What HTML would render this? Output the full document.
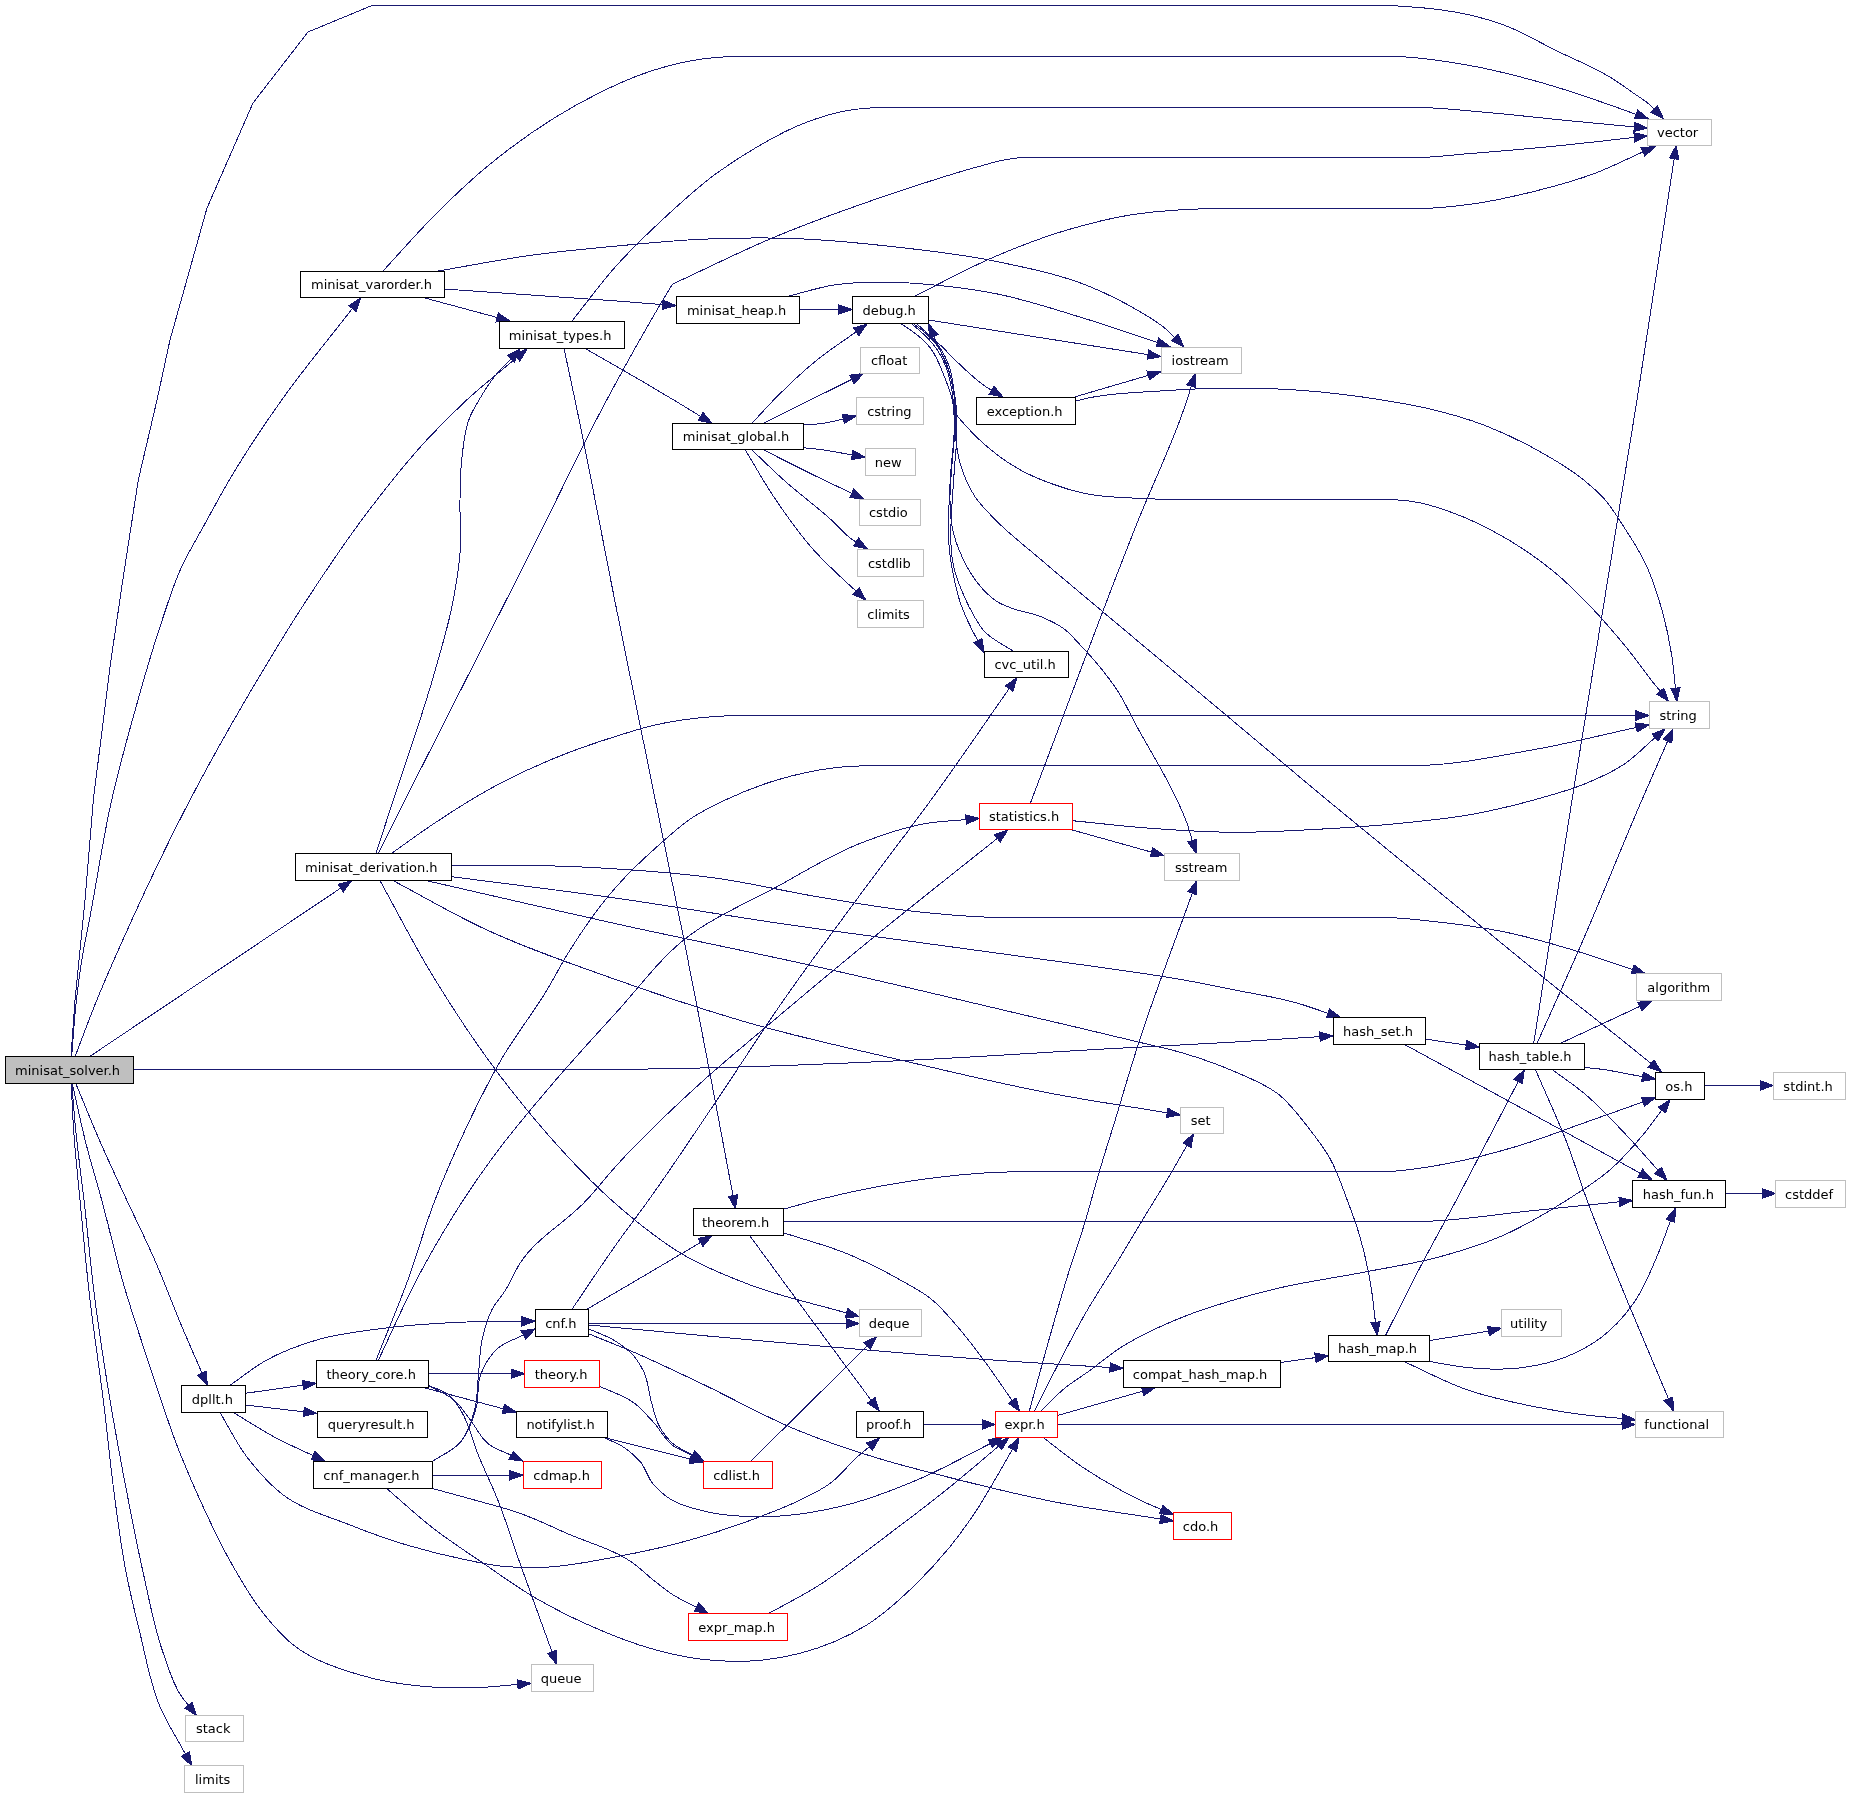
<!DOCTYPE html>
<html lang="en"><head><meta charset="utf-8"><title>minisat_solver.h include dependency graph</title>
<style>html,body{margin:0;padding:0;background:#fff}svg{display:block}text{font-family:"DejaVu Sans","Liberation Sans",sans-serif;font-size:13.0px;fill:#000;text-anchor:middle}.e{shape-rendering:crispEdges}.e path{fill:none;stroke:#191970;stroke-width:1}.e polygon{fill:#191970;stroke:#191970;stroke-width:1}.t{filter:grayscale(1)}.k{fill:#fff;stroke:#000}.r{fill:#fff;stroke:#f00}.g{fill:#fff;stroke:#bfbfbf}.root{fill:#bfbfbf;stroke:#000}</style></head><body>
<svg width="1850" height="1797" viewBox="0 0 1850 1797">
<rect width="1850" height="1797" fill="#fff"/>
<g class="e">
<path d="M71,1056.5L75,1000L85,900L93.3,800L100,746.7L110,666.7L123.3,576.7L138.3,480L157,400L170,340L207,208L253,103L308,32L372,5.5L1391,5.5C1405.3,6.7 1419.7,7.2 1434,9C1446.1,10.5 1458.1,12.3 1470,15C1481.4,17.6 1492.7,21 1503.7,25C1522.3,31.8 1539.3,42.3 1557,51C1574.8,59.7 1593.4,66.9 1610.3,77.3C1618.3,82.2 1625.9,87.8 1633.6,93.2C1639.1,97.1 1645.1,100.4 1650,105C1651.5,106.4 1652.9,107.9 1654.3,109.4"/>
<path d="M71.7,1056.5C73.1,1039.6 74,1022.6 75.8,1005.7C77.8,987.1 80.3,968.5 83.5,950C85.4,938.9 87.9,927.8 90,916.7C97.5,877.9 102.9,838.6 111.7,800C118.1,772 125.6,744.3 133.3,716.7C141.7,686.5 150.1,656.4 160,626.7C166.8,606.5 172.8,586 181.7,566.7C188.1,552.9 196,540 203.3,526.7C213.1,508.8 222.8,490.8 233.3,473.3C248.4,448.2 264.8,423.9 281.7,400C304,368.5 328.8,339 352.4,308.5"/>
<path d="M75.1,1056.5C82.5,1037.2 89.6,1017.8 97.4,998.7C104.1,982.3 111.2,966.2 118.3,950C123.2,938.9 128.2,927.8 133.3,916.7C151.3,877.4 170,838.3 190,800C210,761.6 231.3,724 253.3,686.7C270.6,657.5 288.1,628.4 306.7,600C325.9,570.6 345.5,541.3 366.7,513.3C386.2,487.5 406.2,461.9 428.3,438.3C440.6,425.1 453.4,412.3 466.7,400C482.8,385.1 500.1,371.7 516.8,357.6"/>
<path d="M89.7,1056.5L340.7,888.1"/>
<path d="M133.7,1069.5C289.1,1069.5 444.6,1069.5 600,1069.5C622.3,1069.5 644.7,1069.1 667,1068.7C744.8,1067.4 822.6,1064.3 900.3,1060.7C972.6,1057.4 1044.8,1052.2 1117,1048.3C1156,1046.2 1195,1044.4 1234,1042.1C1262.7,1040.4 1291.3,1038.5 1319.9,1036.6"/>
<path d="M75.8,1083.6C83.9,1103 91.8,1122.6 100.2,1141.9C108.7,1161.4 117.8,1180.7 126.7,1200C135.5,1218.9 144.9,1237.6 153.3,1256.7C164,1280.8 173,1305.7 183.3,1330C189.4,1344.4 195.8,1358.7 202,1373.1"/>
<path d="M72.3,1083.6C77,1104 81.1,1124.5 86.3,1144.8C91,1163.3 96.7,1181.6 101.7,1200C109.2,1227.7 115.3,1255.7 123.3,1283.3C131.4,1311.3 140.8,1339 150,1366.7C159.7,1395.7 168.7,1424.9 180,1453.3C186.3,1469 193,1484.6 200,1500C210.3,1522.6 220.8,1545.2 233.3,1566.7C242.6,1582.7 251.7,1598.9 263.3,1613.3C272.4,1624.6 281.9,1636 293.3,1645C312.4,1660.1 336.7,1668 360,1675C381.6,1681.5 404.2,1684.8 426.7,1686.7C445.5,1688.3 464.5,1688.2 483.3,1687.3C494.8,1686.7 506.3,1685.4 517.7,1684.4"/>
<path d="M71.7,1083.6C73.1,1099.4 74.2,1115.2 75.8,1130.9C78.1,1154 81.3,1177 84,1200C87.8,1233.3 90.7,1266.7 95,1300C99.3,1333.4 104.5,1366.8 110,1400C115.6,1433.4 121.8,1466.7 128.3,1500C133.1,1524.5 137.8,1549 143.3,1573.3C149.4,1600.1 154,1627.4 163.3,1653.3C168.6,1668.1 172.6,1683.9 181.7,1696.7C183.8,1699.7 186.2,1702.4 188.5,1705.3"/>
<path d="M71.2,1083.6C72,1099.4 72.6,1115.1 73.7,1130.9C75.3,1154 77.8,1177 80,1200C83.2,1233.4 86.1,1266.7 90,1300C93.9,1333.4 99.1,1366.6 103.3,1400C107.5,1433.3 110.5,1466.7 115,1500C118,1522.3 120.9,1544.6 125,1566.7C129.2,1589.1 134.5,1611.2 140,1633.3C146.1,1657.9 150.1,1683.3 160,1706.7C167,1723.2 176.9,1738.2 185.4,1754"/>
<path d="M383,271C399.7,253 415.7,234.4 433,217C449.1,200.8 465.5,184.7 483,170C505.7,150.9 529.7,133.1 555,117.5C569.6,108.5 584.6,100.1 600,92.5C613.9,85.7 627.9,79.2 642.5,74C658,68.5 673.8,63.9 690,61C705.8,58.1 721.9,56.5 738,56.5C956,56.5 1174,56.5 1392,56.5C1417.2,56.5 1442.2,60.7 1467,65C1492.9,69.5 1518.4,76.1 1543.7,83.3C1562.8,88.8 1581.6,95.1 1600.3,101.6C1612.3,105.7 1624.2,110.1 1636.1,114.4"/>
<path d="M438,271C469.7,265.7 501.2,259.3 533,255C560.9,251.2 589,248.6 617,246C644.6,243.4 672.3,240.6 700,239.3C732.3,237.8 764.7,237.4 797,238.7C826.1,239.8 855.1,242.6 884,245.7C920.8,249.6 957.7,253.5 994,261C1026.4,267.7 1059.4,274.1 1090,286.7C1106.2,293.4 1122,301.1 1137,310C1147.3,316.1 1158.1,321.9 1167,330C1169.6,332.4 1172,334.9 1174.5,337.4"/>
<path d="M444,289C501.7,293 559.4,296.5 617,301C632.2,302.2 647.5,303.4 662.7,304.6"/>
<path d="M423,297.5L497.2,317.5"/>
<path d="M572,321C587,302.3 600.9,282.8 617,265C630.6,250 645.2,235.8 660,222C678.3,204.9 696.7,187.7 717,173C729.9,163.7 743.2,155 757,147C771.6,138.5 786.3,130.2 802,124C815.9,118.5 830.3,113.7 845,111C857.8,108.6 870.9,107.5 884,107.5C1061.7,107.5 1239.3,107.5 1417,107.5C1439.3,107.5 1461.6,110.3 1483.8,112.2C1511.6,114.5 1539.3,117.8 1567,120.5C1589.4,122.7 1611.9,124.8 1634.4,126.9"/>
<path d="M585,348.5C595.7,354.6 606.4,360.6 617,366.7C636,377.6 654.9,388.7 673.7,400C682.7,405.4 691.7,410.9 700.6,416.4"/>
<path d="M564,348.5C567.7,365.7 571.4,382.8 575,400C589.7,469.8 602.6,540 616.7,610C629.4,673.4 642.4,736.7 655.3,800C664.8,846.7 674.7,893.3 684,940C694.6,993.3 704.8,1046.6 715,1100C721.1,1131.9 727,1163.8 733,1195.6"/>
<path d="M800,309.5L838.7,309.5"/>
<path d="M789,296C804,292.3 818.7,287.4 834,285C850.5,282.4 867.3,282 884,282C900.7,282 917.4,283.4 934,285C954.1,286.9 974.2,289.5 994,293.3C1024.6,299.2 1054.2,309.2 1084,318.3C1108.6,325.8 1132.9,334.5 1157.4,342.5"/>
<path d="M914,296.5C940.7,283.3 966.6,268.7 994,257C1017.9,246.8 1042.1,237.4 1067,230C1087.7,223.9 1108.7,218.5 1130,215C1147.9,212.1 1165.9,210.7 1184,209.6C1200.6,208.6 1217.3,208.5 1234,208.5C1295,208.5 1356,208.5 1417,208.5C1436,208.5 1455,206.5 1473.8,203.8C1494,200.9 1513.9,196.4 1533.7,191.5C1553.9,186.5 1574.1,181.1 1593.6,173.8C1610.5,167.5 1626.6,159.2 1643,151.9"/>
<path d="M928.7,320L1147.9,354.6"/>
<path d="M915.9,323.3C923.4,329.9 931.1,336.3 938.4,343.2C944.7,349.1 950.5,355.5 956.7,361.5C962.2,366.8 967.7,372.1 973.5,377C977.6,380.5 981.7,384.1 986.2,387C988,388.1 989.8,389.1 991.6,390.2"/>
<path d="M900.4,323.3C906.5,327.6 913.1,331.3 918.7,336.2C922.7,339.7 926.7,343.3 930,347.5C936.6,355.7 940,365.9 944,375.6C946.6,382 948.9,388.7 951,395.3C953.1,401.8 953.2,409.1 956.7,415C958.9,418.7 962.2,421.6 965,424.8C969.1,429.4 973.4,434 977.9,438.3C990.8,450.7 1005.3,461.7 1021,470.3C1031.2,475.9 1042.1,480.3 1053,484.2C1062.1,487.5 1071.4,490.4 1080.8,492.6C1103.4,498 1127.1,497.6 1150.3,498.8C1178.2,500.3 1206.1,499.5 1234,499.5C1284,499.5 1333.9,499.5 1383.9,499.5C1395.6,499.5 1407.3,500.4 1418.8,502.6C1430.8,504.9 1442.4,509 1453.8,513.2C1467.5,518.3 1480.8,524.6 1493.7,531.5C1514.9,542.8 1535.1,556.2 1553.7,571.5C1567.9,583.2 1580.9,596.4 1593.6,609.8C1605.2,622.1 1616.2,635 1626.9,648.1C1636.1,659.5 1644.4,671.7 1653.6,683.1C1655.8,685.8 1658,688.4 1660.2,691.1"/>
<path d="M913,323.3C916.8,326.2 920.7,328.8 924.3,332C929.5,336.6 934.5,341.7 938.4,347.5C941.9,352.7 944.5,358.5 946.8,364.3C949.4,371.1 951,378.3 952.4,385.4C953.8,392.4 954.6,399.4 955.3,406.5C956.5,418.9 954.6,431.5 956.3,443.9C957.1,450 958.2,456.1 959.8,462C963.1,474.2 968.1,486.2 975.1,496.8C981.2,506.1 989.6,513.8 997.4,521.8C1010.3,534.9 1025.1,546 1039,558C1059.2,575.3 1079.7,592.3 1100,609.4C1144.5,646.8 1189.1,684.1 1233.7,721.5C1264.9,747.7 1295.9,774 1327.2,800C1373.6,838.6 1420.4,876.7 1467.1,914.9C1500.4,942.1 1533.4,969.7 1567,996.5C1583.6,1009.8 1600.4,1022.7 1617,1036C1628.4,1045.2 1639.8,1054.4 1651.2,1063.6"/>
<path d="M916,323.3C919.7,326.5 923.5,329.6 927,333C931.9,337.8 936.6,342.8 940.4,348.5C943.8,353.7 946.7,359.4 948.8,365.3C951.3,372.1 952.3,379.3 953.4,386.4C955.6,400.8 955.2,415.5 954.8,430C954.4,443.4 952.4,456.6 951.5,470C950.9,480 949.8,490 950,500C950.2,509.2 950.4,518.4 952.2,527.4C954.3,538 958,548.2 962.6,558C966.5,566.3 971,574.3 976.5,581.6C979.5,585.5 982.7,589.3 986.2,592.7C989.7,596 993.3,599.3 997.4,601.8C1001.7,604.5 1006.6,606.1 1011.3,608C1021.2,611.9 1032.1,612.9 1041.9,617.1C1049.6,620.4 1057.4,623.9 1064.1,628.9C1070.4,633.6 1075.4,639.9 1080.8,645.6C1087.4,652.6 1093.9,659.7 1100,667.1C1106,674.5 1111.8,682.1 1117,690C1124.7,701.6 1130.3,714.5 1137,726.7C1150.3,751.1 1165.5,774.7 1177,800C1180.5,807.7 1184.2,815.3 1187,823.3C1189,829 1190.5,834.8 1192.2,840.6"/>
<path d="M911,323.3C914.8,326.5 918.7,329.6 922.3,333C927.4,337.8 932.4,342.8 936.4,348.5C940.2,354 943.3,360.1 945.8,366.3C948.5,373.1 950,380.3 951.4,387.4C954.1,401.4 954.3,415.8 954.2,430C954.1,443.9 951.7,457.8 950.8,471.7C949.8,486.5 949,501.4 948.7,516.2C948.6,524.6 948.2,532.9 948.7,541.3C949.3,550.6 950.6,559.9 952.2,569.1C954.4,581.3 957,593.5 961.2,605.2C964.3,613.8 968.2,622.1 972.3,630.3C974.1,633.8 976,637.3 977.9,640.8"/>
<path d="M1012.7,650.9C1002.9,644 991,639.5 983.4,630.3C980.2,626.5 977.7,622.1 975.1,617.8C970.3,609.8 966.2,601.3 962.6,592.7C959.4,585 956.2,577.2 954.2,569.1C952,560 951.2,550.6 950.8,541.3C950.4,532 951.1,522.7 951.5,513.4C952.1,499.5 953.3,485.6 954.2,471.7C955.1,457.8 957,443.9 957,430C957,420 956.9,409.9 955.5,400C954.2,390.5 952,381.1 949,372C946.5,364.5 943.1,357.3 940,350C938,345.4 935.9,340.8 933.9,336.2"/>
<path d="M1075.5,396.7L1148.2,375.4"/>
<path d="M1076,401C1079.7,400.1 1083.3,399.1 1087,398.3C1110.9,392.9 1135.6,392.7 1160,391C1184.6,389.3 1209.3,388 1234,388C1256.2,388 1278.4,388.7 1300.6,390.3C1327.9,392.3 1355.2,395.6 1382.2,400C1397.2,402.4 1412.3,404.9 1427.1,408.3C1446.3,412.8 1465.4,418 1483.8,425C1502.1,432 1519.9,440.5 1537,450C1553.2,459 1569.4,468.3 1583.7,480C1590.7,485.7 1597.6,491.5 1603.6,498.2C1611.4,506.8 1617.3,516.8 1623.6,526.5C1631.4,538.4 1639.2,550.4 1645.3,563.2C1652.4,578.1 1657.4,593.9 1661.9,609.8C1666.2,625.1 1669.5,640.7 1671.9,656.4C1673.5,666.9 1674.3,677.6 1675.4,688.2"/>
<path d="M752,423.3C759.2,415.5 766.3,407.6 773.7,400C787.5,386 801.7,372.3 817,360C829.5,349.9 843.1,341.2 856.2,331.8"/>
<path d="M763.7,423.3C779.2,415.5 794.8,407.7 810.3,400C824.1,393.1 838,386.3 851.8,379.4"/>
<path d="M803.7,425C810.4,424.4 817.1,424.3 823.7,423.3C830.3,422.3 836.8,420.4 843.3,418.9"/>
<path d="M803.7,447.7C810.4,448.5 817.1,449.1 823.7,450C833.3,451.3 842.7,453.3 852.2,455"/>
<path d="M763.7,450C781.5,458.9 799.1,468 817,476.7C828.5,482.3 840.1,487.7 851.7,493.3"/>
<path d="M752,450C762.6,460 772.9,470.3 783.7,480C798.8,493.5 815.2,505.5 830.3,519C838.1,526 844.5,534.7 853.3,540.3C854.2,540.9 855.2,541.5 856.2,542.1"/>
<path d="M745.3,450C754.8,465.6 763.6,481.6 773.7,496.7C786.1,515.2 798.9,533.5 813.7,550C823.5,560.9 834.3,571 845,581C848.6,584.4 852.3,587.7 856,591"/>
<path d="M376,853.3C381.8,835.5 387.5,817.8 393.3,800C406.6,758.9 421.5,718.3 433.3,676.7C440.5,651.3 448.5,626 453.3,600C456.2,584.5 458.8,569 460,553.3C461.3,535.6 459.6,517.8 460,500C460.3,486.7 460.2,473.3 461.7,460C463.3,445.4 464.2,430.2 470,416.7C472.5,410.9 475.8,405.5 479,400C483.9,391.7 489,383.5 495,376C499.9,369.9 505.6,364.5 511,358.8"/>
<path d="M378.3,853.3C387.2,835.5 396.1,817.8 405,800C447.5,715.4 490.8,631.3 533.3,546.7C557.9,497.8 580.8,448.2 606.7,400C610.1,393.7 613.5,387.3 617,381C627.8,361.2 638.7,341.5 650,322C657.3,309.3 664.9,296.8 672.4,284.2C706.3,268.6 739.6,251.7 774,237.3C813.3,220.9 853.6,206.6 894,193C921.5,183.8 949,174.6 977,167C986,164.6 994.9,161.7 1004,160C1010.6,158.8 1017.3,157.5 1024,157.5C1155,157.5 1286,157.5 1417,157.5C1433.7,157.5 1450.3,155.1 1467,153.8C1500.4,151.2 1533.7,148.3 1567,144.9C1589.5,142.6 1611.9,139.9 1634.4,137.4"/>
<path d="M391.7,853.3C405.6,843.5 419.2,833.4 433.3,824C452.6,811.1 472.1,798.6 492.5,787.5C516.4,774.5 541.3,763.2 566.7,753.3C583.2,746.9 600.1,741.3 617,736C629.6,732.1 642.1,727.9 655,725C668.2,722 681.6,719.9 695,718.3C709.9,716.5 725,715.5 740,715.5C1038.6,715.5 1337.3,715.5 1635.9,715.5"/>
<path d="M451.7,865.7C478.9,865.7 506.1,865.7 533.3,865.7C561.2,865.7 589.1,867.2 617,869C650.4,871.1 683.8,873.7 717,878.3C750.6,882.9 783.6,891.1 817,896.7C850.2,902.2 883.5,908.2 917,911.7C946.2,914.8 975.6,917.5 1005,917.5C1131.3,917.5 1257.6,917.5 1383.9,917.5C1400.6,917.5 1417.2,919.7 1433.8,921.5C1459.5,924.3 1485.2,927.7 1510.4,933.2C1529.5,937.3 1548.3,942.7 1567,948.2C1589.1,954.6 1610.8,962.3 1632.6,969.4"/>
<path d="M451.7,876.7C506.8,883.9 562,890.5 617,898.3C672.7,906.2 728.1,915.9 783.7,924C839.2,932.1 894.8,939.1 950.3,946.7C994.8,952.8 1039.3,958.6 1083.7,965C1117.1,969.8 1150.5,974 1183.7,980C1200.5,983 1217.3,986.4 1234,989.8C1255.1,994.1 1276.6,997.1 1297.3,1003.1C1307.6,1006.1 1317.7,1009.9 1328,1013.2"/>
<path d="M426.7,880.7C490.1,895.1 553.5,910 617,924C683.6,938.7 750.5,951.8 817,966.7C883.8,981.6 950.4,997.6 1017,1013.3C1057,1022.7 1097.1,1031.9 1137,1041.7C1152.6,1045.5 1168.3,1048.7 1183.7,1053.3C1200.8,1058.4 1217.7,1064.2 1234,1071.4C1249.5,1078.2 1265.8,1084.1 1279,1094.7C1290,1103.5 1298.5,1115.2 1307.3,1126.3C1315.7,1136.9 1324.1,1147.7 1330.6,1159.6C1337.6,1172.3 1342.1,1186.4 1347.2,1200C1351.4,1211 1355.5,1222 1358.9,1233.3C1363.8,1249.6 1367.6,1266.4 1370.5,1283.2C1372.7,1296.2 1373.8,1309.3 1375.5,1322.3"/>
<path d="M393.3,880.7C423.3,896.6 452.6,913.9 483.3,928.3C526.6,948.6 572,964 617,980C661,995.6 705.4,1010.4 750.3,1023.3C799.8,1037.5 850.2,1048.3 900.3,1060C950.2,1071.6 1000,1083.7 1050.3,1093.3C1089.1,1100.7 1128.2,1106.3 1167.2,1112.8"/>
<path d="M380,880.7C397.8,912.7 414.2,945.5 433.3,976.7C452.1,1007.5 471.9,1037.7 493.3,1066.7C510.2,1089.6 527.9,1111.9 546.7,1133.3C568.8,1158.4 591.7,1183.1 617,1205C638,1223.2 659.7,1241 683.7,1255C704.8,1267.2 727.5,1276.3 750.3,1285C781.5,1296.9 814.5,1303.7 846.5,1313"/>
<path d="M1030.3,803.3C1065.9,710 1100.1,616.1 1137,523.3C1153.4,482.1 1173.4,442.2 1187,400C1188.5,395.4 1189.9,390.8 1191.3,386.2"/>
<path d="M1072.3,820.7C1098.3,823.2 1124.2,826.4 1150.3,828.3C1178.2,830.3 1206.1,832.1 1234,832.3C1261.8,832.5 1289.5,830.8 1317.2,829.3C1345,827.8 1372.8,826.1 1400.5,823.3C1425,820.8 1449.6,818.5 1473.8,814C1494,810.3 1513.9,805.5 1533.7,800C1551.7,795 1569.8,790.3 1587,783C1599.6,777.7 1612.2,772.2 1623.6,764.6C1635.1,757 1644.6,746.6 1655.1,737.6"/>
<path d="M1072.3,830L1151.5,852.1"/>
<path d="M1425.5,1039.1L1466.2,1045.1"/>
<path d="M1403.8,1044.1C1458.2,1073.7 1512.7,1103.2 1567,1133C1591.4,1146.4 1615.8,1159.8 1640.2,1173.2"/>
<path d="M1533.7,1043.4C1546.5,962.3 1559.1,881.1 1572,800C1593.3,666.6 1616,533.4 1637,400C1649.6,319.6 1661.8,239.1 1674.2,158.6"/>
<path d="M1537,1043.4C1551.4,1011.1 1566.2,978.9 1580.3,946.5C1601.5,897.9 1620.9,848.6 1641.9,800C1650.4,780.4 1659,760.8 1667.6,741.2"/>
<path d="M1560.3,1043.4L1639.8,1006.4"/>
<path d="M1584.3,1067.4C1589.6,1068 1595,1068.4 1600.3,1069.1C1614.5,1070.9 1628.4,1074.2 1642.5,1076.7"/>
<path d="M1552,1069.5C1562.6,1077.3 1573.6,1084.6 1583.7,1093C1599.5,1106.1 1613.4,1121.4 1627.5,1136.3C1638,1147.4 1647.9,1159 1658.1,1170.4"/>
<path d="M1535.4,1069.5C1545.9,1094 1557.4,1118.1 1567,1143C1574.2,1161.8 1580,1181.1 1587,1200C1599.4,1233.6 1613.3,1266.7 1626.9,1299.9C1640.5,1333 1654.6,1365.9 1668.5,1398.8"/>
<path d="M1704.5,1085.5L1760.2,1085.5"/>
<path d="M1725.5,1193.5L1762.5,1193.5"/>
<path d="M783.3,1209.3C794.5,1206.2 805.7,1202.9 817,1200C839,1194.4 861.3,1189.5 883.7,1185.5C916.8,1179.6 950.2,1175.2 983.7,1173C1009.1,1171.4 1034.6,1171.5 1060,1171.5C1168,1171.5 1275.9,1171.5 1383.9,1171.5C1406.3,1171.5 1428.5,1167.1 1450.5,1163C1473,1158.8 1495.1,1152.8 1517,1146.3C1539.6,1139.6 1561.5,1130.8 1583.7,1123C1603.5,1116 1623.3,1108.9 1643.1,1101.9"/>
<path d="M783.3,1221.5C994.6,1221.5 1205.9,1221.5 1417.2,1221.5C1456.2,1221.5 1494.9,1214.3 1533.7,1210.5C1562.3,1207.7 1590.8,1204.7 1619.4,1201.8"/>
<path d="M783.3,1232.7C805.6,1240.1 828.6,1245.8 850.3,1255C867.5,1262.3 884.1,1270.8 900.3,1280C910.5,1285.8 921.1,1291.1 930.3,1298.3C941.7,1307.3 950.9,1318.9 960.3,1330C968.5,1339.6 976.1,1349.8 983.7,1360C993.6,1373.3 1002.7,1387.1 1012.2,1400.6"/>
<path d="M749.6,1235.5C768.6,1261.3 787.5,1287.2 806.5,1313C820.5,1332 834.5,1351 848.6,1370C856.1,1380.1 863.7,1390.2 871.2,1400.3"/>
<path d="M571.8,1309.5C586.9,1287.4 601.5,1265.1 617,1243.3C627.4,1228.7 638.3,1214.5 648.7,1200C672.2,1167.2 694.4,1133.5 717,1100C739.4,1066.8 760.8,1032.9 783.7,1000C809.6,962.8 836.8,926.5 863.7,890C886,859.9 909,830.3 931,800C957.7,763.3 983.1,725.7 1009.2,688.6"/>
<path d="M586.4,1309.5C596.6,1303.6 606.8,1297.6 617,1291.7C644.9,1275.4 672.7,1258.9 700.5,1242.5"/>
<path d="M588.7,1323.5L846,1323.5"/>
<path d="M588.7,1325C652.5,1330.8 716.2,1337 780,1342.5C859,1349.4 937.9,1356.4 1017,1361.7C1048,1363.8 1079,1365.6 1110,1367.5"/>
<path d="M588.7,1328.9C597.3,1332.8 606.6,1335.6 614.6,1340.6C621.6,1345 628.6,1349.9 634,1356.2C638,1360.9 641.2,1366.2 643.8,1371.7C648.4,1381.4 648.6,1392.6 651.6,1402.9C653.9,1410.7 655.4,1419 659.3,1426.2C662.9,1432.7 667.4,1438.9 673,1443.7C678.7,1448.6 686,1451 692.5,1454.7"/>
<path d="M588.7,1333.8C603.8,1340 619,1345.9 634,1352.3C656.4,1361.9 678.3,1372.6 700.3,1383C732.7,1398.3 763.8,1416.4 797,1430C825.3,1441.6 854.4,1451.3 883.7,1460C902.3,1465.5 921.2,1470.3 940,1475.1C978.7,1485 1017.6,1494.7 1056.8,1502.3C1091.1,1509 1125.8,1513.4 1160.4,1519"/>
<path d="M230,1385.3C242.2,1376.9 253.7,1367.2 266.7,1360C282.4,1351.4 299.5,1345.1 316.7,1340C338.3,1333.6 360.9,1331.2 383.3,1328.3C410.9,1324.7 438.8,1323.1 466.7,1322C485.1,1321.3 503.5,1321.5 521.9,1321.3"/>
<path d="M245.3,1393.3L302.8,1385.2"/>
<path d="M245.3,1405L303.8,1411.8"/>
<path d="M233.3,1412.5C247.8,1421.1 261.8,1430.5 276.7,1438.3C288.6,1444.5 300.9,1449.8 313,1455.6"/>
<path d="M220,1412.5C228.9,1427.2 236.3,1443 246.7,1456.7C257.4,1470.7 269.2,1484.4 283.3,1495C302.8,1509.7 327.3,1516 350,1525C368.6,1532.4 387.5,1539.2 406.7,1545C426.4,1550.9 446.5,1555.9 466.7,1560C477.7,1562.3 488.8,1564.7 500,1566C514.3,1567.6 528.9,1567.8 543.3,1567.3C568,1566.5 592.4,1561.2 616.7,1556.7C641.3,1552.1 665.9,1546.8 690,1540C713.7,1533.4 737,1525.5 760,1516.7C773.6,1511.5 787.3,1506.4 800.3,1500C810.6,1494.9 821.1,1490.1 830.3,1483.3C840.5,1475.8 848,1465.1 857.5,1456.7C861.4,1453.3 865.4,1450 869.4,1446.6"/>
<path d="M376,1360.3C386.2,1334.6 397.1,1309.2 406.7,1283.3C416.9,1255.8 424.4,1227.3 435,1200C444.6,1175.2 455.3,1150.8 466.7,1126.7C477.4,1104.1 488.5,1081.6 501,1060C515,1035.8 532.6,1013.9 547,990C554.3,977.9 560.6,965.3 568,953.3C582.7,929.7 598.5,906.7 617,886C629.4,872 643,859.1 657,846.7C668.8,836.2 680.4,825.2 693.7,816.7C703.7,810.3 714.5,805.1 725.3,800C742,792.1 759.3,785.3 777,780C794.4,774.8 812.3,770.7 830.3,768.3C848,765.9 865.9,765.5 883.7,765.5C1060.4,765.5 1237.1,765.5 1413.8,765.5C1454.1,765.5 1494,756.7 1533.7,749.7C1568.1,743.6 1602,734.9 1636.2,727.5"/>
<path d="M378.3,1360.3C392.2,1331.3 404.8,1301.6 420,1273.3C433.4,1248.3 447.8,1223.8 463.3,1200C472.9,1185.3 482.9,1170.9 493.3,1156.7C511.1,1132.5 530.6,1109.6 550,1086.7C571.7,1061.1 594.4,1036.5 617,1011.7C639,987.6 658.3,960.5 683.7,940C711.6,917.6 745.5,903.8 777,886.7C804.5,871.7 831.1,854.7 860.3,843.3C881.9,834.9 904.1,827.1 927,823.3C939.9,821.1 953,820.8 966.1,819.6"/>
<path d="M428.4,1373.7L511.2,1373.7"/>
<path d="M423.3,1387.5L503.4,1408.8"/>
<path d="M428.4,1385.4C437.3,1390.6 447.4,1394 455,1400.9C461.2,1406.5 465.5,1413.8 470.6,1420.4C476.6,1428.1 480.6,1437.6 488.1,1443.7C494.8,1449.1 503.5,1451.4 511.2,1455.3"/>
<path d="M428.4,1385.4C435.3,1388.6 443.4,1390.2 449.2,1395.1C454.1,1399.3 457.4,1405.1 460.9,1410.6C469.5,1424.1 472.3,1440.6 478.4,1455.4C484.6,1470.4 491.8,1484.9 497.8,1500C506.1,1520.8 512.5,1542.2 520,1563.3C530.5,1592.9 541.3,1622.3 552,1651.8"/>
<path d="M432.6,1461.2C441.4,1455.4 451.7,1451.4 458.9,1443.7C468.2,1433.7 472.9,1419.9 476.4,1406.8C479.1,1396.7 476.8,1385.5 480.3,1375.6C483.9,1365.5 489.7,1355.5 497.8,1348.4C505,1342 514.9,1339.5 523.4,1335"/>
<path d="M432.6,1461.2C442,1454.7 453.6,1450.6 460.9,1441.8C468.1,1433 471.5,1421.6 474.5,1410.6C477.6,1399.3 477.1,1387.3 478.4,1375.6C479.7,1363.3 479.5,1350.7 482.3,1338.6C484.6,1328.6 487.2,1318.6 492,1309.5C495.7,1302.5 501.4,1296.7 505.6,1290C511,1281.4 514.5,1271.8 520,1263.3C536.6,1237.5 565.9,1222.5 586.7,1200C597.2,1188.7 606.6,1176.4 617,1165C643.1,1136.2 671.5,1109.5 700.3,1083.3C723,1062.6 746.9,1043.2 770.3,1023.3C803.4,995.3 836.7,967.5 870.3,940C912.3,905.6 955,872.2 997.4,838.3"/>
<path d="M432.6,1475.2L509.8,1475.2"/>
<path d="M432.6,1488.5C446.6,1492.3 460.6,1496.1 474.5,1500C489.7,1504.3 505.1,1508 520,1513.3C536,1519 551.2,1526.5 566.7,1533.3C589,1543.1 613.5,1549.1 633.3,1563.3C640.3,1568.4 646.5,1574.6 653.3,1580C659.8,1585.2 666.3,1590.5 673.3,1595C680.7,1599.7 688.8,1603.1 696.5,1607.1"/>
<path d="M386.7,1488.5C402.2,1501.8 417.1,1515.8 433.3,1528.3C449.4,1540.8 466.5,1551.8 483.3,1563.3C499.8,1574.6 516,1586.5 533.3,1596.7C554.7,1609.3 577.1,1620.4 600,1630C616.4,1636.9 632.9,1643.4 650,1648.3C666.4,1653 683.1,1656.9 700,1659C716.6,1661.1 733.3,1661.9 750,1661C766.8,1660.1 783.7,1657.6 800,1653.3C823.4,1647.2 846.2,1637.7 866.7,1625C885.1,1613.5 901.2,1598.5 916.7,1583.3C928.5,1571.8 939.6,1559.5 950,1546.7C959.5,1534.9 968.4,1522.6 976.7,1510C984.4,1498.3 991.3,1485.9 998.4,1473.8C1003.2,1465.6 1007.8,1457.4 1012.5,1449.2"/>
<path d="M599.6,1386.3C611.1,1391.8 623.8,1395.3 634,1402.9C641.3,1408.4 647.3,1415.6 653.5,1422.3C660.4,1429.8 664.8,1439.7 673,1445.7C678.8,1449.9 685.8,1452.1 692.2,1455.3"/>
<path d="M603.9,1437.5L690.2,1459"/>
<path d="M603.9,1437.5C610.7,1440.9 618,1443.4 624.3,1447.6C630,1451.5 635.4,1456 639.9,1461.2C645.8,1468 647.6,1477.8 653.5,1484.6C657.4,1489.1 661.9,1493.2 666.7,1496.7C678.2,1505.1 692.9,1508.3 706.7,1511.7C724,1516 742.2,1516.6 760,1516.7C790.3,1516.9 820.7,1511.6 850,1504C873,1498 895.1,1489.2 917,1480C942.2,1469.4 965.9,1455.7 990.4,1443.6"/>
<path d="M750.8,1461.2L867.1,1346.1"/>
<path d="M923.3,1424.5L982.2,1424.5"/>
<path d="M768.3,1613.7C784.4,1604.7 801,1596.5 816.7,1586.7C840,1572.2 861.3,1554.7 883.3,1538.3C905.9,1521.4 928.4,1504.4 950.3,1486.7C966.6,1473.5 982.5,1459.7 998.6,1446.2"/>
<path d="M1029.2,1411.5C1034.5,1392.2 1039.7,1372.9 1045.1,1353.6C1052.1,1328.5 1059.1,1303.4 1066.8,1278.5C1072.6,1259.5 1079.4,1240.8 1085.1,1221.8C1090.1,1205.2 1094.4,1188.3 1099.3,1171.7C1104.4,1154.4 1109.9,1137.2 1115.2,1120C1122.8,1095 1130,1069.9 1138,1045C1154.4,993.8 1174.2,943.8 1192.3,893.2"/>
<path d="M1034.2,1411.5C1041.2,1397.8 1048,1384 1055.1,1370.3C1064.4,1352.4 1073.5,1334.4 1083.4,1316.9C1096,1294.7 1110.3,1273.6 1123.5,1251.8C1129.7,1241.6 1135.7,1231.2 1141.9,1221C1151.8,1204.5 1162.2,1188.3 1171.9,1171.7C1177,1162.9 1182,1154.1 1187,1145.2"/>
<path d="M1040.5,1411.5C1048.1,1404.2 1055.1,1396.3 1063.2,1389.5C1071.8,1382.3 1081.5,1376.6 1090.5,1370C1099.4,1363.4 1107.8,1356.2 1117,1350C1137.6,1336.2 1160.6,1325.9 1183.7,1316.7C1200.1,1310.1 1217.1,1304.9 1234,1299.9C1247.2,1296 1260.6,1292.5 1274,1289.2C1304.7,1281.7 1336.2,1277.7 1367.2,1271.6C1391.7,1266.8 1416.4,1263.2 1440.5,1256.6C1460.8,1251 1481,1244.9 1500.4,1236.6C1523.7,1226.6 1545.6,1213.6 1567,1200C1581.9,1190.5 1597,1181.2 1610.3,1169.6C1622.9,1158.6 1633.9,1145.9 1644.5,1133C1650.6,1125.6 1656.1,1117.7 1661.9,1110.1"/>
<path d="M1057.8,1415.4L1142.6,1391.2"/>
<path d="M1057.8,1424.5L1622.3,1424.5"/>
<path d="M1043.1,1437.5C1056.3,1447.4 1069,1458.1 1082.7,1467.3C1095.3,1475.7 1108.3,1483.5 1121.6,1490.7C1130.1,1495.3 1138.8,1499.6 1147.6,1503.6C1152.1,1505.6 1156.7,1507.5 1161.3,1509.5"/>
<path d="M1280.6,1362.5L1315.4,1357.6"/>
<path d="M1385.5,1335.5C1397.2,1312.5 1408.6,1289.4 1420.5,1266.6C1432.2,1244.3 1444.5,1222.3 1456.4,1200C1477.3,1160.7 1497.6,1121 1518.2,1081.5"/>
<path d="M1429.5,1340.5L1488.4,1331.2"/>
<path d="M1429.5,1361.5C1442,1363.5 1454.5,1366.3 1467.1,1367.5C1483.7,1369.1 1500.5,1370 1517,1368.2C1534,1366.4 1551.1,1363 1567,1356.5C1578.7,1351.7 1590.1,1345.7 1600.3,1338.2C1613.2,1328.6 1624.3,1316.3 1633.6,1303.2C1643.7,1289 1650.1,1272.6 1656.9,1256.6C1661.9,1244.9 1666,1232.7 1670.5,1220.7"/>
<path d="M1403.8,1361.5C1424.9,1370.9 1445.3,1382.3 1467.1,1389.8C1488.7,1397.3 1511.3,1402 1533.7,1406.5C1550.3,1409.8 1566.9,1412.7 1583.7,1414.8C1596.5,1416.4 1609.5,1417.3 1622.4,1418.5"/>
<polygon points="1663.6,118.9 1651,112.7 1657.6,106.1"/>
<polygon points="360.5,298 356.1,311.4 348.7,305.7"/>
<polygon points="527,349 519.9,361.2 513.8,354"/>
<polygon points="351.7,880.7 343.3,892 338.1,884.2"/>
<polygon points="1333.2,1035.8 1320.2,1041.3 1319.6,1032"/>
<polygon points="207.3,1385.3 197.7,1375 206.3,1371.2"/>
<polygon points="531,1683.3 518.1,1689.1 517.4,1679.8"/>
<polygon points="196.7,1715.7 184.8,1708.2 192.1,1702.4"/>
<polygon points="191.7,1765.7 181.3,1756.2 189.5,1751.8"/>
<polygon points="1648.6,118.9 1634.5,118.8 1637.7,110"/>
<polygon points="1184,346.7 1171.2,340.7 1177.8,334"/>
<polygon points="676,305.7 662.4,309.3 663.1,300"/>
<polygon points="510,321 495.9,322 498.4,313"/>
<polygon points="1647.6,128.2 1633.9,131.6 1634.8,122.3"/>
<polygon points="712,423.3 698.2,420.4 703.1,412.4"/>
<polygon points="735.5,1208.7 728.4,1196.5 737.6,1194.8"/>
<polygon points="852,309.5 838.7,314.2 838.7,304.8"/>
<polygon points="1170,346.7 1155.9,347 1158.8,338.1"/>
<polygon points="1655.2,146.5 1644.9,156.2 1641.1,147.6"/>
<polygon points="1161,356.7 1147.1,359.2 1148.6,350"/>
<polygon points="1003,397 989.2,394.2 994,386.2"/>
<polygon points="1668.6,701.4 1656.6,694.1 1663.8,688.2"/>
<polygon points="1661.5,1072 1648.2,1067.3 1654.1,1060"/>
<polygon points="1196,853.3 1187.7,841.9 1196.7,839.2"/>
<polygon points="984.1,652.5 973.7,642.9 982,638.6"/>
<polygon points="928.5,324 938.2,334.3 929.6,338.1"/>
<polygon points="1161,371.7 1149.5,379.9 1146.9,371"/>
<polygon points="1676.9,701.4 1670.8,688.7 1680.1,687.7"/>
<polygon points="867,324 858.9,335.6 853.5,328"/>
<polygon points="863.7,373.5 853.9,383.6 849.7,375.2"/>
<polygon points="856.3,416 844.3,423.5 842.3,414.3"/>
<polygon points="865.3,457.3 851.4,459.6 853,450.4"/>
<polygon points="863.7,499 849.7,497.5 853.7,489.1"/>
<polygon points="867.5,549 853.7,546 858.6,538.1"/>
<polygon points="865.8,600 852.8,594.5 859.1,587.6"/>
<polygon points="520,349 514.4,361.9 507.5,355.6"/>
<polygon points="1647.6,135.9 1634.9,142 1633.9,132.7"/>
<polygon points="1649.2,715.5 1635.9,720.2 1635.9,710.8"/>
<polygon points="1645.3,973.5 1631.2,973.9 1634.1,965"/>
<polygon points="1340.6,1017.4 1326.5,1017.7 1329.4,1008.8"/>
<polygon points="1377.2,1335.5 1370.9,1322.9 1380.1,1321.7"/>
<polygon points="1180.3,1115 1166.4,1117.4 1168,1108.2"/>
<polygon points="859.3,1316.7 845.2,1317.5 847.8,1308.5"/>
<polygon points="1195.3,373.5 1195.8,387.6 1186.9,384.8"/>
<polygon points="1665.2,729 1658.1,741.2 1652.1,734.1"/>
<polygon points="1164.3,855.7 1150.2,856.6 1152.7,847.6"/>
<polygon points="1479.4,1047.1 1465.6,1049.8 1466.9,1040.5"/>
<polygon points="1651.9,1179.6 1638,1177.3 1642.5,1169.1"/>
<polygon points="1676.2,145.5 1678.8,159.4 1669.6,157.9"/>
<polygon points="1672.9,729 1671.9,743.1 1663.3,739.3"/>
<polygon points="1651.9,1000.8 1641.8,1010.6 1637.9,1002.2"/>
<polygon points="1655.6,1079.1 1641.7,1081.3 1643.3,1072.1"/>
<polygon points="1667,1180.3 1654.6,1173.5 1661.6,1167.3"/>
<polygon points="1673.6,1411.1 1664.1,1400.6 1672.8,1397"/>
<polygon points="1773.5,1085.5 1760.2,1090.2 1760.2,1080.8"/>
<polygon points="1775.8,1193.5 1762.5,1198.2 1762.5,1188.8"/>
<polygon points="1655.6,1097.4 1644.6,1106.3 1641.5,1097.5"/>
<polygon points="1632.6,1200.5 1619.8,1206.5 1618.9,1197.2"/>
<polygon points="1019.8,1411.5 1008.3,1403.3 1016,1397.9"/>
<polygon points="879.2,1411 867.5,1403.1 875,1397.5"/>
<polygon points="1016.8,677.7 1013,691.3 1005.3,685.9"/>
<polygon points="712,1235.7 702.9,1246.5 698.2,1238.4"/>
<polygon points="859.3,1323.5 846,1328.2 846,1318.8"/>
<polygon points="1123.3,1368.3 1109.7,1372.1 1110.3,1362.8"/>
<polygon points="704.1,1461.2 690.2,1458.7 694.8,1450.6"/>
<polygon points="1173.5,1521.1 1159.6,1523.6 1161.1,1514.4"/>
<polygon points="535.2,1321.1 522,1325.9 521.8,1316.6"/>
<polygon points="316,1383.3 303.5,1389.8 302.2,1380.5"/>
<polygon points="317,1413.3 303.3,1416.4 304.3,1407.1"/>
<polygon points="325,1461.3 311,1459.8 315,1451.4"/>
<polygon points="879.5,1438 872.4,1450.2 866.3,1443.1"/>
<polygon points="1649.2,724.7 1637.2,732.1 1635.2,722.9"/>
<polygon points="979.3,818.3 966.5,824.2 965.6,814.9"/>
<polygon points="524.5,1373.7 511.2,1378.4 511.2,1369"/>
<polygon points="516.3,1412.2 502.2,1413.3 504.6,1404.3"/>
<polygon points="523.1,1461.2 509.1,1459.4 513.3,1451.1"/>
<polygon points="556.5,1664.3 547.6,1653.4 556.4,1650.2"/>
<polygon points="535.2,1328.9 525.6,1339.2 521.2,1330.9"/>
<polygon points="1007.8,830 1000.3,842 994.5,834.7"/>
<polygon points="523.1,1475.2 509.8,1479.9 509.8,1470.5"/>
<polygon points="708.3,1613.3 694.4,1611.3 698.7,1603"/>
<polygon points="1019.1,1437.7 1016.5,1451.6 1008.4,1446.9"/>
<polygon points="704.1,1461.2 690.1,1459.4 694.3,1451.1"/>
<polygon points="703.1,1462.2 689.1,1463.5 691.3,1454.5"/>
<polygon points="1002.3,1437.7 992.5,1447.8 988.3,1439.4"/>
<polygon points="876.5,1336.7 870.3,1349.4 863.8,1342.7"/>
<polygon points="995.5,1424.5 982.2,1429.2 982.2,1419.8"/>
<polygon points="1008.8,1437.7 1001.6,1449.8 995.6,1442.7"/>
<polygon points="1196.8,880.7 1196.7,894.8 1187.9,891.6"/>
<polygon points="1193.6,1133.7 1191.1,1147.6 1182.9,1142.9"/>
<polygon points="1670,1099.5 1665.7,1112.9 1658.2,1107.3"/>
<polygon points="1155.4,1387.5 1143.9,1395.6 1141.3,1386.7"/>
<polygon points="1635.6,1424.5 1622.3,1429.2 1622.3,1419.8"/>
<polygon points="1173.5,1514.7 1159.4,1513.8 1163.1,1505.2"/>
<polygon points="1328.6,1355.8 1316.1,1362.3 1314.8,1353"/>
<polygon points="1524.3,1069.7 1522.3,1083.7 1514,1079.3"/>
<polygon points="1501.4,1328.2 1489.5,1335.7 1487.4,1326.6"/>
<polygon points="1675.2,1208.3 1674.9,1222.4 1666.1,1219.1"/>
<polygon points="1635.6,1419.8 1621.9,1423.2 1622.8,1413.9"/>
</g>
<g>
<rect class="root" x="5.5" y="1056.5" width="128" height="27"/>
<rect class="k" x="300.5" y="271.5" width="144" height="26"/>
<rect class="k" x="499.5" y="321.5" width="125" height="27"/>
<rect class="k" x="676.5" y="296.5" width="123" height="27"/>
<rect class="k" x="852.5" y="296.5" width="76" height="27"/>
<rect class="g" x="860.5" y="347.5" width="59" height="26"/>
<rect class="g" x="856.5" y="397.5" width="67" height="27"/>
<rect class="k" x="672.5" y="423.5" width="131" height="26"/>
<rect class="g" x="865.5" y="448.5" width="50" height="27"/>
<rect class="g" x="859.5" y="499.5" width="61" height="26"/>
<rect class="g" x="857.5" y="549.5" width="66" height="27"/>
<rect class="g" x="857.5" y="600.5" width="66" height="27"/>
<rect class="g" x="1647.5" y="119.5" width="64" height="26"/>
<rect class="g" x="1161.5" y="347.5" width="80" height="26"/>
<rect class="k" x="976.5" y="397.5" width="99" height="27"/>
<rect class="k" x="984.5" y="651.5" width="84" height="26"/>
<rect class="g" x="1649.5" y="701.5" width="60" height="27"/>
<rect class="r" x="979.5" y="803.5" width="93" height="26"/>
<rect class="g" x="1164.5" y="853.5" width="75" height="27"/>
<rect class="g" x="1636.5" y="973.5" width="85" height="27"/>
<rect class="k" x="1333.5" y="1017.5" width="92" height="27"/>
<rect class="k" x="1479.5" y="1043.5" width="105" height="26"/>
<rect class="k" x="1655.5" y="1072.5" width="49" height="27"/>
<rect class="g" x="1773.5" y="1072.5" width="72" height="27"/>
<rect class="g" x="1180.5" y="1107.5" width="43" height="26"/>
<rect class="k" x="1632.5" y="1180.5" width="93" height="27"/>
<rect class="g" x="1775.5" y="1180.5" width="70" height="27"/>
<rect class="k" x="295.5" y="853.5" width="156" height="27"/>
<rect class="k" x="693.5" y="1208.5" width="90" height="27"/>
<rect class="k" x="535.5" y="1309.5" width="53" height="27"/>
<rect class="g" x="859.5" y="1309.5" width="62" height="27"/>
<rect class="k" x="316.5" y="1360.5" width="112" height="27"/>
<rect class="r" x="524.5" y="1360.5" width="75" height="27"/>
<rect class="k" x="181.5" y="1385.5" width="64" height="27"/>
<rect class="k" x="317.5" y="1411.5" width="110" height="26"/>
<rect class="k" x="516.5" y="1411.5" width="91" height="26"/>
<rect class="k" x="856.5" y="1411.5" width="67" height="26"/>
<rect class="k" x="313.5" y="1461.5" width="119" height="27"/>
<rect class="r" x="523.5" y="1461.5" width="78" height="27"/>
<rect class="r" x="703.5" y="1461.5" width="69" height="27"/>
<rect class="r" x="688.5" y="1613.5" width="99" height="27"/>
<rect class="g" x="531.5" y="1664.5" width="62" height="27"/>
<rect class="g" x="185.5" y="1715.5" width="58" height="26"/>
<rect class="g" x="184.5" y="1765.5" width="59" height="27"/>
<rect class="r" x="995.5" y="1411.5" width="62" height="26"/>
<rect class="k" x="1123.5" y="1360.5" width="157" height="27"/>
<rect class="k" x="1328.5" y="1335.5" width="101" height="26"/>
<rect class="g" x="1501.5" y="1309.5" width="60" height="27"/>
<rect class="g" x="1635.5" y="1411.5" width="88" height="26"/>
<rect class="r" x="1173.5" y="1512.5" width="58" height="27"/>
</g>
<g class="t">
<text x="67.6" y="1074.5">minisat_solver.h</text>
<text x="371.5" y="289">minisat_varorder.h</text>
<text x="560.1" y="339.5">minisat_types.h</text>
<text x="736.6" y="314.5">minisat_heap.h</text>
<text x="889.1" y="314.5">debug.h</text>
<text x="889.1" y="365">cfloat</text>
<text x="889.4" y="415.5">cstring</text>
<text x="736.1" y="441">minisat_global.h</text>
<text x="888.1" y="466.5">new</text>
<text x="888.4" y="517">cstdio</text>
<text x="889.3" y="567.5">cstdlib</text>
<text x="888.6" y="618.5">climits</text>
<text x="1677.6" y="137">vector</text>
<text x="1200.1" y="365">iostream</text>
<text x="1024.6" y="415.5">exception.h</text>
<text x="1025.1" y="669">cvc_util.h</text>
<text x="1678.1" y="719.5">string</text>
<text x="1024.1" y="821">statistics.h</text>
<text x="1201.2" y="871.5">sstream</text>
<text x="1678.7" y="991.5">algorithm</text>
<text x="1378.1" y="1035.5">hash_set.h</text>
<text x="1530.1" y="1061">hash_table.h</text>
<text x="1678.9" y="1090.5">os.h</text>
<text x="1808.1" y="1090.5">stdint.h</text>
<text x="1200.6" y="1125">set</text>
<text x="1678.4" y="1198.5">hash_fun.h</text>
<text x="1809.1" y="1198.5">cstddef</text>
<text x="371.3" y="871.5">minisat_derivation.h</text>
<text x="735.6" y="1226.5">theorem.h</text>
<text x="560.9" y="1327.5">cnf.h</text>
<text x="889.2" y="1327.5">deque</text>
<text x="371.2" y="1378.5">theory_core.h</text>
<text x="561.1" y="1378.5">theory.h</text>
<text x="212.4" y="1403.5">dpllt.h</text>
<text x="371.2" y="1429">queryresult.h</text>
<text x="560.6" y="1429">notifylist.h</text>
<text x="888.7" y="1429">proof.h</text>
<text x="371.4" y="1479.5">cnf_manager.h</text>
<text x="561.6" y="1479.5">cdmap.h</text>
<text x="736.6" y="1479.5">cdlist.h</text>
<text x="736.6" y="1631.5">expr_map.h</text>
<text x="561.1" y="1682.5">queue</text>
<text x="213.2" y="1733">stack</text>
<text x="212.7" y="1783.5">limits</text>
<text x="1024.6" y="1429">expr.h</text>
<text x="1200.1" y="1378.5">compat_hash_map.h</text>
<text x="1377.6" y="1353">hash_map.h</text>
<text x="1528.6" y="1327.5">utility</text>
<text x="1676.7" y="1429">functional</text>
<text x="1200.6" y="1530.5">cdo.h</text>
</g></svg></body></html>
